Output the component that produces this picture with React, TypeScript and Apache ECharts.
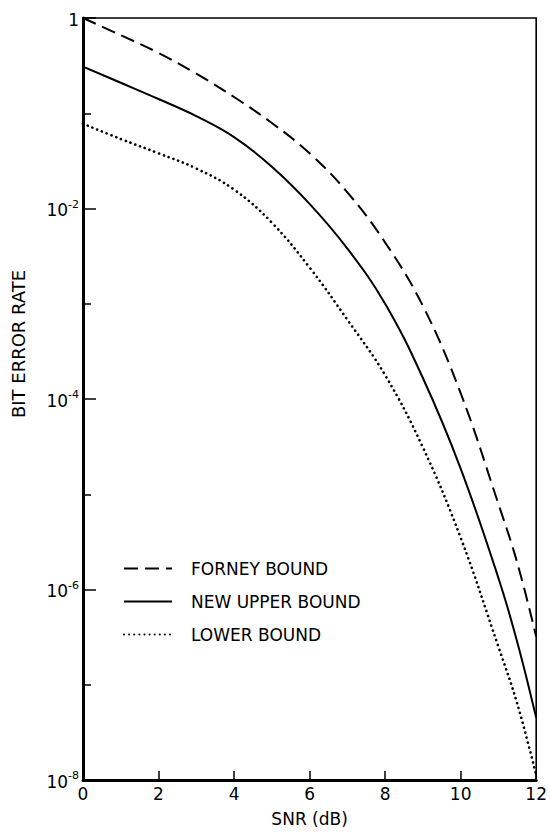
import React, { useEffect, useRef } from 'react';
import * as echarts from 'echarts';

const snr = [0, 1, 2, 3, 4, 5, 6, 7, 8, 9, 10, 11, 11.5, 12];
const forney = [1, 0.66, 0.43, 0.26, 0.148, 0.079, 0.038, 0.0148, 0.0044, 0.00095, 1.15e-4, 7.9e-6, 1.9e-6, 3.2e-7];
const newUpper = [0.309, 0.209, 0.141, 0.0933, 0.0562, 0.0275, 0.0112, 0.0038, 0.001, 1.66e-4, 1.86e-5, 1.32e-6, 2.8e-7, 4.5e-8];
const lower = [0.0776, 0.0537, 0.038, 0.0263, 0.0158, 0.0071, 0.0024, 6.8e-4, 1.78e-4, 3.1e-5, 3.5e-6, 2.5e-7, 6.3e-8, 1.12e-8];
const seriesNames = ['FORNEY BOUND', 'NEW UPPER BOUND', 'LOWER BOUND'];
const yMajorTicks = [1, 1e-2, 1e-4, 1e-6, 1e-8];
const yMinorTicks = [1e-1, 1e-3, 1e-5, 1e-7];
const xAxisTitle = 'SNR (dB)';
const yAxisTitle = 'BIT ERROR RATE';

const FONT = 'DejaVu Sans';

export default function App() {
  const ref = useRef<HTMLDivElement>(null);
  useEffect(() => {
    if (!ref.current) return;
    const chart = echarts.init(ref.current, undefined, { renderer: 'svg' });
    const pair = (ys: number[]) => snr.map((x, i) => [x, ys[i]]);
    chart.setOption({
      animation: false,
      backgroundColor: '#fff',
      grid: {
        left: 83,
        right: 5,
        top: 18,
        bottom: 41,
        show: true,
        borderColor: '#000',
        borderWidth: 1.6,
        backgroundColor: 'transparent',
      },
      legend: {
        orient: 'vertical',
        left: 118,
        top: 555,
        itemWidth: 48,
        itemHeight: 14,
        itemGap: 16,
        data: seriesNames,
        itemStyle: { color: 'transparent', borderColor: 'transparent', borderWidth: 0 },
        textStyle: { fontFamily: FONT, fontSize: 17, color: '#000', padding: [0, 0, 0, 14] },
      },
      xAxis: {
        type: 'value',
        min: 0,
        max: 12,
        interval: 2,
        name: xAxisTitle,
        nameLocation: 'middle',
        nameGap: 30,
        nameTextStyle: { fontFamily: FONT, fontSize: 17, color: '#000' },
        axisLine: { lineStyle: { color: '#000', width: 3 } },
        axisTick: { inside: true, length: 9, lineStyle: { color: '#000', width: 1.5 } },
        axisLabel: { fontFamily: FONT, fontSize: 17, color: '#000', margin: 5 },
        splitLine: { show: false },
      },
      yAxis: [
        {
          type: 'log',
          logBase: 10,
          min: 1e-8,
          max: 1,
          name: yAxisTitle,
          nameLocation: 'middle',
          nameGap: 56,
          nameRotate: 90,
          nameTextStyle: { fontFamily: FONT, fontSize: 18, color: '#000', padding: [0, 0, 0, 110] },
          axisLine: { lineStyle: { color: '#000', width: 3 } },
          axisTick: {
            inside: true,
            length: 13,
            customValues: yMajorTicks,
            lineStyle: { color: '#000', width: 1.5 },
          },
          axisLabel: {
            customValues: yMajorTicks,
            margin: 4,
            formatter: (v: number) => {
              const e = Math.round(Math.log10(v));
              if (e === 0) return '{b|1}';
              return '{b|10}{s|' + e + '}';
            },
            rich: {
              b: { fontFamily: FONT, fontSize: 17, color: '#000', verticalAlign: 'bottom', lineHeight: 20 },
              s: { fontFamily: FONT, fontSize: 11, color: '#000', verticalAlign: 'top', lineHeight: 20, padding: [0, 0, 7, 0] },
            },
          },
          splitLine: { show: false },
        },
        {
          type: 'log',
          logBase: 10,
          min: 1e-8,
          max: 1,
          position: 'left',
          axisLine: { show: false },
          axisTick: {
            inside: true,
            length: 8,
            customValues: yMinorTicks,
            lineStyle: { color: '#000', width: 1.5 },
          },
          axisLabel: { show: false },
          splitLine: { show: false },
        },
      ],
      series: [
        {
          name: seriesNames[0],
          type: 'line',
          data: pair(forney),
          smooth: 0.4,
          symbol: 'none',
          lineStyle: { color: '#000', width: 2, type: [14, 7] },
          itemStyle: { color: '#000' },
        },
        {
          name: seriesNames[1],
          type: 'line',
          data: pair(newUpper),
          smooth: 0.4,
          symbol: 'none',
          lineStyle: { color: '#000', width: 2 },
          itemStyle: { color: '#000' },
        },
        {
          name: seriesNames[2],
          type: 'line',
          data: pair(lower),
          smooth: 0.4,
          symbol: 'none',
          lineStyle: { color: '#000', width: 2.6, type: [0.1, 5], cap: 'round' },
          itemStyle: { color: '#000' },
        },
      ],
    });
    return () => chart.dispose();
  }, []);
  return (
    <div
      ref={ref}
      style={{ position: 'fixed', left: 0, top: 0, width: 550, height: 832, background: '#fff' }}
    />
  );
}
